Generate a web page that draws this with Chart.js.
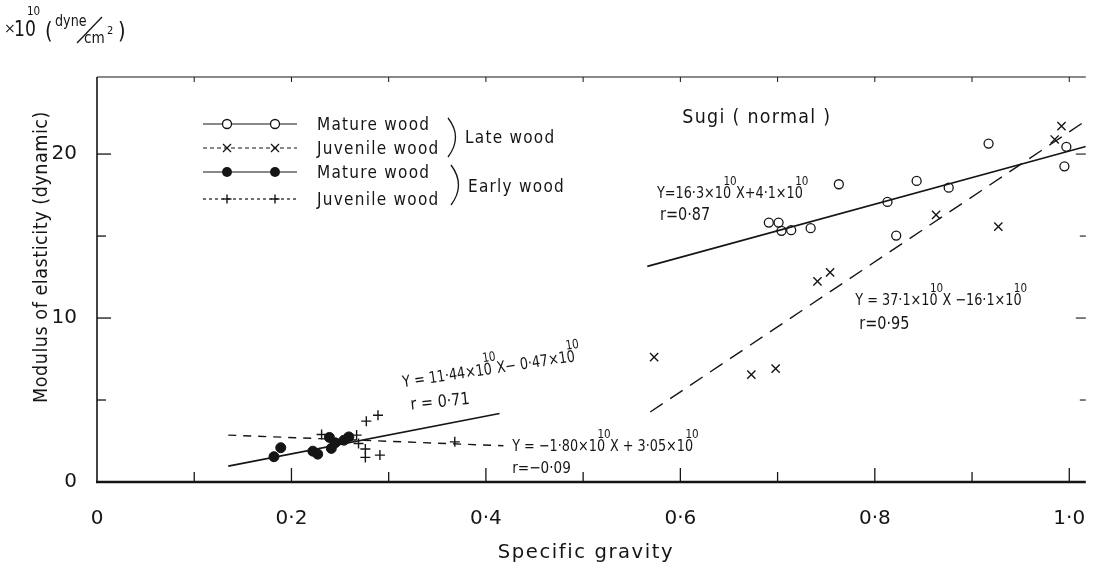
<!DOCTYPE html>
<html><head><meta charset="utf-8">
<script src="https://cdn.jsdelivr.net/npm/chart.js@4/dist/chart.umd.min.js"></script>
<style>html,body{margin:0;padding:0;background:#fff;overflow:hidden;}canvas{display:block;}</style>
</head><body>
<canvas id="c" width="1093" height="567"></canvas>
<script>
const FONT = '"DejaVu Sans", "Noto Sans", sans-serif';
const INK = '#151515';

// tick values / labels
const xTickValues = [0,0.1,0.2,0.3,0.4,0.5,0.6,0.7,0.8,0.9,1.0];
const xTickLabels = ['0','','0·2','','0·4','','0·6','','0·8','','1·0'];
const yTickValues = [0,5,10,15,20];
const yTickLabels = ['0','','10','','20'];

// Late wood, mature (open circles)
const lateMatureX = [0.691,0.701,0.704,0.714,0.734,0.763,0.813,0.822,0.843,0.876,0.917,0.997,0.995];
const lateMatureY = [15.82,15.82,15.32,15.36,15.48,18.16,17.08,15.03,18.36,17.95,20.64,20.44,19.25];
// Late wood, juvenile (x)
const lateJuvenileX = [0.573,0.673,0.698,0.741,0.754,0.863,0.927,0.985,0.992];
const lateJuvenileY = [7.62,6.55,6.91,12.24,12.78,16.29,15.58,20.89,21.70];
// Early wood, mature (filled circles)
const earlyMatureX = [0.182,0.189,0.222,0.227,0.239,0.241,0.245,0.254,0.259];
const earlyMatureY = [1.54,2.09,1.88,1.70,2.72,2.05,2.39,2.55,2.75];
// Early wood, juvenile (+)
const earlyJuvenileX = [0.231,0.267,0.269,0.277,0.289,0.276,0.276,0.291,0.368];
const earlyJuvenileY = [2.90,2.86,2.35,3.71,4.07,2.01,1.50,1.64,2.45];

// regression lines as drawn in the figure (end points)
const lateMatureFitX = [0.566, 1.017];
const lateMatureFitY = [13.15, 20.46];
const lateJuvenileFitX = [0.569, 1.017];
const lateJuvenileFitY = [4.27, 22.03];
const earlyMatureFitX = [0.135, 0.414];
const earlyMatureFitY = [0.97, 4.18];
const earlyJuvenileFitX = [0.135, 0.418];
const earlyJuvenileFitY = [2.86, 2.21];

const pts = (xs, ys) => xs.map((v, i) => ({x: v, y: ys[i]}));

function seg(ctx, x1, y1, x2, y2, w) {
  ctx.lineWidth = w; ctx.beginPath(); ctx.moveTo(x1, y1); ctx.lineTo(x2, y2); ctx.stroke();
}
// rich text: parts beginning with '^' are superscripts set over the preceding digits
function rich(ctx, x, y, parts, size, rot, spacing, sx) {
  ctx.save();
  ctx.translate(x, y); if (rot) ctx.rotate(rot); ctx.scale(sx || 1, 1);
  ctx.fillStyle = INK; ctx.textBaseline = 'alphabetic'; ctx.textAlign = 'left';
  ctx.letterSpacing = (spacing || 0) + 'px';
  let cx = 0;
  for (const p of parts) {
    const sup = p.startsWith('^');
    const t = sup ? p.slice(1) : p;
    if (sup) {
      ctx.font = Math.round(size * 0.8) + 'px ' + FONT;
      const sx0 = cx - 0.6 * size;
      ctx.fillText(t, sx0, -size * 0.8);
      cx = sx0 + ctx.measureText(t).width - 0.05 * size;
    } else {
      ctx.font = size + 'px ' + FONT;
      ctx.fillText(t, cx, 0);
      cx += ctx.measureText(t).width;
    }
  }
  ctx.restore();
}
function marker(ctx, kind, px, py) {
  ctx.save(); ctx.strokeStyle = INK; ctx.fillStyle = INK; ctx.lineWidth = 1.3;
  if (kind === 'o') { ctx.beginPath(); ctx.arc(px, py, 4.5, 0, Math.PI*2); ctx.stroke(); }
  else if (kind === 'f') { ctx.beginPath(); ctx.arc(px, py, 5, 0, Math.PI*2); ctx.fill(); }
  else if (kind === 'x') { seg(ctx, px-4, py-4, px+4, py+4, 1.3); seg(ctx, px-4, py+4, px+4, py-4, 1.3); }
  else { seg(ctx, px-4.5, py, px+4.5, py, 1.4); seg(ctx, px, py-4.5, px, py+4.5, 1.4); }
  ctx.restore();
}
function txt(ctx, s, x, y, size, sx) {
  ctx.save(); ctx.translate(x, y); ctx.scale(sx || 1, 1);
  ctx.font = size + 'px ' + FONT; ctx.fillStyle = INK; ctx.fillText(s, 0, 0); ctx.restore();
}

const decor = {
  id: 'decor',
  afterDraw(chart) {
    const {ctx, chartArea: a, scales: {x, y}} = chart;
    ctx.save();
    ctx.strokeStyle = INK;
    // frame
    seg(ctx, a.left - 1, a.bottom, a.right, a.bottom, 2.4);
    seg(ctx, a.left, a.top, a.left, a.bottom, 1.6);
    seg(ctx, a.left, a.top, a.right, a.top, 1.1);
    // inward ticks + x tick labels
    ctx.save();
    ctx.fillStyle = INK; ctx.font = '20px ' + FONT; ctx.textAlign = 'center'; ctx.textBaseline = 'middle';
    xTickValues.forEach((v, i) => {
      const px = x.getPixelForValue(v);
      if (xTickLabels[i]) ctx.fillText(xTickLabels[i], px, a.bottom + 37);
      if (v === 0) return;
      seg(ctx, px, a.bottom, px, a.bottom - (xTickLabels[i] ? 14 : 10), 1.3);
      seg(ctx, px, a.top, px, a.top + 5, 1);
    });
    ctx.restore();
    yTickValues.forEach((v, i) => {
      if (v === 0) return;
      const py = y.getPixelForValue(v);
      seg(ctx, a.left, py, a.left + (yTickLabels[i] ? 14 : 9), py, 1.3);
      seg(ctx, a.right, py, a.right - (yTickLabels[i] ? 10 : 6), py, 1.1);
    });

    // legend
    const L = a.left, T = a.top;
    const rows = [
      {k: 'o', dash: [], text: 'Mature wood', dy: 47},
      {k: 'x', dash: [4, 3], text: 'Juvenile wood', dy: 71},
      {k: 'f', dash: [], text: 'Mature wood', dy: 95},
      {k: '+', dash: [3, 3], text: 'Juvenile wood', dy: 122}
    ];
    rows.forEach(r => {
      const py = T + r.dy;
      ctx.save(); ctx.setLineDash(r.dash); seg(ctx, L + 106, py, L + 200, py, 1.2); ctx.restore();
      if (r.k === 'o' || r.k === 'f') { ctx.save(); ctx.fillStyle = '#fff'; ctx.beginPath(); ctx.arc(L+130, py, 5, 0, 7); ctx.arc(L+178, py, 5, 0, 7); ctx.fill(); ctx.restore(); }
      marker(ctx, r.k, L + 130, py);
      marker(ctx, r.k, L + 178, py);
      rich(ctx, L + 220, py + 6, [r.text], 17, 0, 1.4, 0.9);
    });
    // braces
    ctx.lineWidth = 1.3;
    ctx.beginPath(); ctx.moveTo(L+351, T+41); ctx.quadraticCurveTo(L+366, T+60, L+351, T+80); ctx.stroke();
    ctx.beginPath(); ctx.moveTo(L+354, T+88); ctx.quadraticCurveTo(L+369, T+108, L+354, T+128); ctx.stroke();
    rich(ctx, L + 368, T + 66, ['Late wood'], 17, 0, 1.4, 0.9);
    rich(ctx, L + 371, T + 115, ['Early wood'], 17, 0, 1.4, 0.9);

    // panel label
    rich(ctx, x.getPixelForValue(0.602), T + 46, ['Sugi ( normal )'], 19, 0, 1.4, 0.92);

    // equations (anchored in data space)
    const EQ = 16, SX = 0.8;
    rich(ctx, x.getPixelForValue(0.576), y.getPixelForValue(17.32),
      ['Y=16·3×10', '^10', 'X+4·1×10', '^10'], EQ, 0, 0, SX);
    rich(ctx, x.getPixelForValue(0.579), y.getPixelForValue(15.98), ['r=0·87'], 17, 0, 0, 0.85);
    rich(ctx, x.getPixelForValue(0.780), y.getPixelForValue(10.79),
      ['Y = 37·1×10', '^10', 'X −16·1×10', '^10'], EQ, 0, 0, SX);
    rich(ctx, x.getPixelForValue(0.784), y.getPixelForValue(9.33), ['r=0·95'], 17, 0, 0, 0.85);
    rich(ctx, x.getPixelForValue(0.315), y.getPixelForValue(5.78),
      ['Y = 11·44×10', '^10', 'X− 0·47×10', '^10'], EQ, -0.15, 0, SX);
    rich(ctx, x.getPixelForValue(0.323), y.getPixelForValue(4.4), ['r = 0·71'], 17, -0.1, 0, 0.85);
    rich(ctx, x.getPixelForValue(0.427), y.getPixelForValue(1.90),
      ['Y = −1·80×10', '^10', 'X + 3·05×10', '^10'], EQ, 0, 0, SX);
    rich(ctx, x.getPixelForValue(0.427), y.getPixelForValue(0.55), ['r=−0·09'], 16, 0, 0, 0.85);

    // axis titles
    ctx.save();
    ctx.fillStyle = INK; ctx.font = '20px ' + FONT; ctx.letterSpacing = '1.6px';
    ctx.textAlign = 'center'; ctx.textBaseline = 'middle';
    ctx.save(); ctx.translate(586, 553); ctx.scale(0.98, 1); ctx.fillText('Specific gravity', 0, 0); ctx.restore();
    ctx.letterSpacing = '0.6px';
    ctx.translate(42, 257); ctx.rotate(-Math.PI / 2); ctx.scale(0.88, 1);
    ctx.fillText('Modulus of elasticity (dynamic)', 0, 0);
    ctx.restore();

    // unit label
    txt(ctx, '×', 4, 33, 14, 1);
    txt(ctx, '10', 14, 36, 22, 0.78);
    txt(ctx, '10', 27, 15, 13, 0.8);
    txt(ctx, '(', 45, 39, 23, 0.85);
    txt(ctx, 'dyne', 55, 26, 15, 0.85);
    ctx.lineWidth = 1.3; seg(ctx, 102, 17, 77, 43, 1.3);
    txt(ctx, 'cm', 84, 43, 16, 0.85);
    txt(ctx, '2', 107, 34, 11, 0.9);
    txt(ctx, ')', 118, 39, 23, 0.85);

    ctx.restore();
  }
};

new Chart(document.getElementById('c'), {
  type: 'scatter',
  data: {
    datasets: [
      {data: pts(lateMatureFitX, lateMatureFitY), showLine: true, borderColor: INK, borderWidth: 1.6, pointRadius: 0, order: 2},
      {data: pts(lateJuvenileFitX, lateJuvenileFitY), showLine: true, borderColor: INK, borderWidth: 1.4, borderDash: [15, 9], pointRadius: 0, order: 2},
      {data: pts(earlyMatureFitX, earlyMatureFitY), showLine: true, borderColor: INK, borderWidth: 1.6, pointRadius: 0, order: 2},
      {data: pts(earlyJuvenileFitX, earlyJuvenileFitY), showLine: true, borderColor: INK, borderWidth: 1.4, borderDash: [8, 7], pointRadius: 0, order: 2},
      {data: pts(lateMatureX, lateMatureY), pointStyle: 'circle', pointRadius: 4.5, pointBorderWidth: 1.3, pointBackgroundColor: 'rgba(255,255,255,0)', pointBorderColor: INK, order: 1},
      {data: pts(lateJuvenileX, lateJuvenileY), pointStyle: 'crossRot', pointRadius: 5.8, pointBorderWidth: 1.4, pointBorderColor: INK, order: 1},
      {data: pts(earlyMatureX, earlyMatureY), pointStyle: 'circle', pointRadius: 5, pointBorderWidth: 1, pointBackgroundColor: INK, pointBorderColor: INK, order: 1},
      {data: pts(earlyJuvenileX, earlyJuvenileY), pointStyle: 'cross', pointRadius: 5, pointBorderWidth: 1.4, pointBorderColor: INK, order: 1}
    ]
  },
  options: {
    responsive: false, animation: false, devicePixelRatio: 1,
    layout: {padding: {left: 0, right: 0, top: 77, bottom: 0}},
    plugins: {legend: {display: false}, tooltip: {enabled: false}},
    scales: {
      x: {
        type: 'linear', min: 0, max: 1.017,
        afterBuildTicks: s => { s.ticks = xTickValues.map(v => ({value: v})); },
        afterFit: s => { s.height = 85; },
        grid: {display: false}, border: {display: false},
        ticks: {display: false}
      },
      y: {
        type: 'linear', min: 0, max: 24.7,
        afterBuildTicks: s => { s.ticks = yTickValues.map(v => ({value: v})); },
        afterFit: s => { s.width = 97; },
        grid: {display: false}, border: {display: false},
        ticks: {callback: (v, i) => yTickLabels[i], font: {family: FONT, size: 20}, color: INK, padding: 12, autoSkip: false}
      }
    }
  },
  plugins: [decor]
});
</script>
</body></html>
